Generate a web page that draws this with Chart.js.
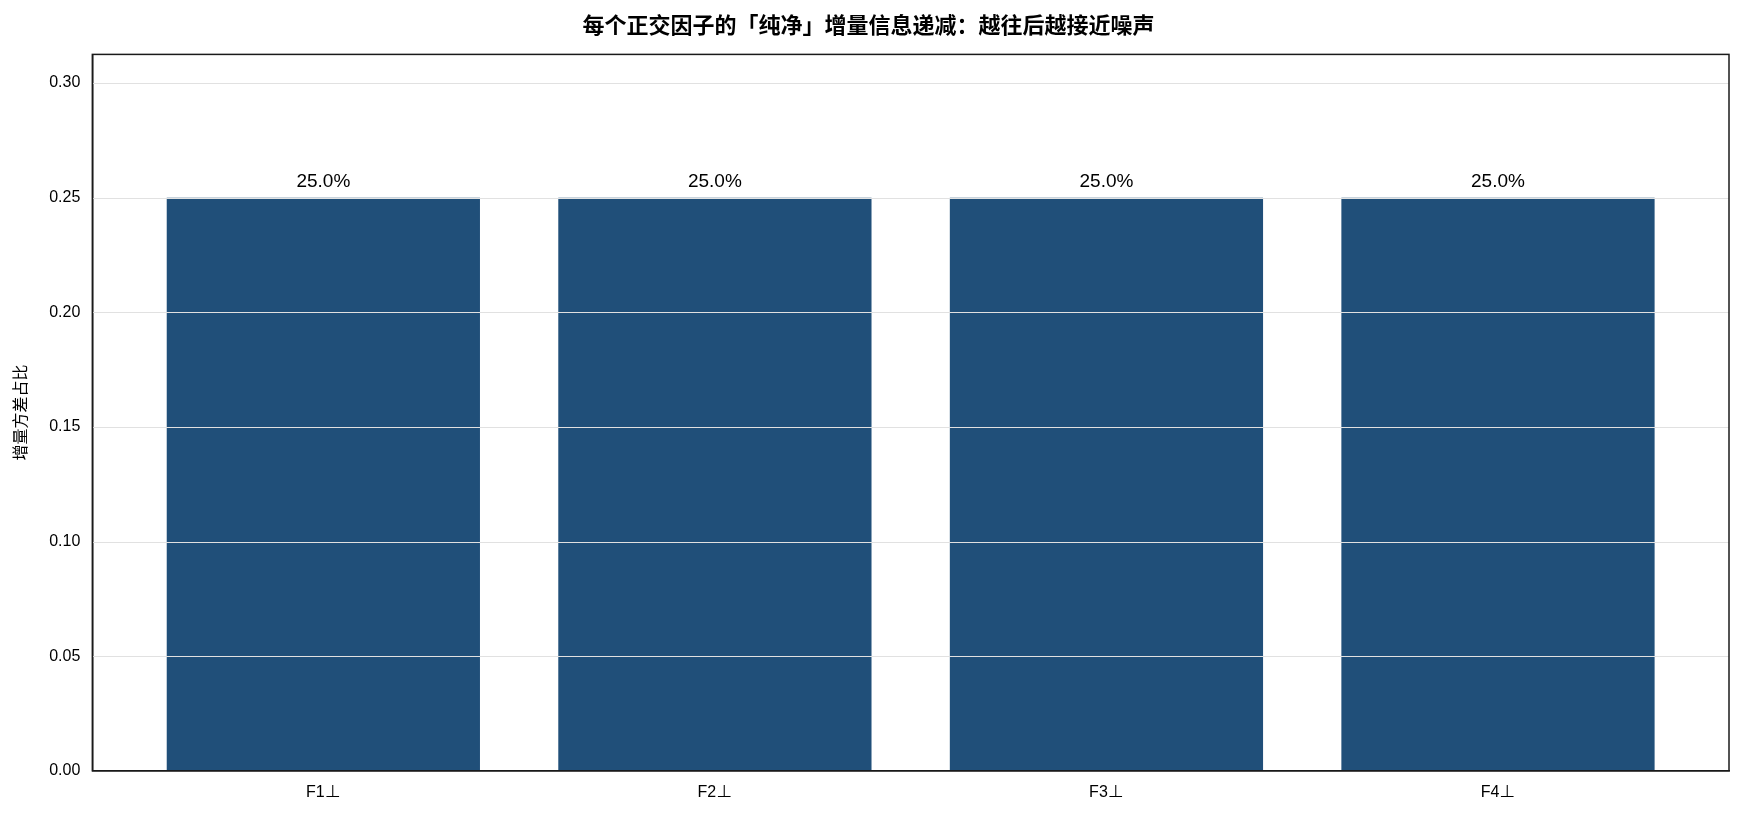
<!DOCTYPE html>
<html><head><meta charset="utf-8">
<script src="https://cdn.jsdelivr.net/npm/chart.js@4"></script>
<style>html,body{margin:0;padding:0;background:#fff}#w{width:1744px;height:816px}</style>
</head><body><div id="w"><canvas id="c"></canvas></div>
<script>
const categories = ["F1⊥","F2⊥","F3⊥","F4⊥"];
const values = [0.25,0.25,0.25,0.25];
const labels = ["25.0%","25.0%","25.0%","25.0%"];
const yTicks = [0,0.05,0.10,0.15,0.20,0.25,0.30];
const titleText = "每个正交因子的「纯净」增量信息递减：越往后越接近噪声";
const yTitle = "增量方差占比";
const FONT = "'Liberation Sans','Noto Sans CJK SC',sans-serif";

const overGrid = {
  id:'overGrid',
  afterDatasetsDraw(ch){
    const {ctx,chartArea:a,scales:{x,y}} = ch;
    ctx.save();
    ctx.strokeStyle='rgba(225,225,225,1)'; ctx.lineWidth=1.2;
    yTicks.forEach(v=>{ if(v===0) return; const py=Math.round(y.getPixelForValue(v))+0.5;
      ctx.beginPath(); ctx.moveTo(a.left,py); ctx.lineTo(a.right,py); ctx.stroke();});
    ctx.fillStyle='#000'; ctx.font="19px "+FONT; ctx.textAlign='center'; ctx.textBaseline='bottom';
    const meta=ch.getDatasetMeta(0);
    meta.data.forEach((b,i)=>{ ctx.fillText(labels[i], b.x, b.y-6); });
    ctx.strokeStyle='#1a1a1a'; ctx.lineWidth=1.5;
    ctx.strokeRect(a.left,a.top,a.right-a.left,a.bottom-a.top);
    ctx.restore();
  }
};

new Chart(document.getElementById('c'),{
  type:'bar',
  data:{datasets:[{data:values.map((v,i)=>({x:i,y:v})),backgroundColor:'#204f79',barPercentage:0.8,categoryPercentage:1}]},
  options:{
    responsive:true,maintainAspectRatio:false,animation:false,
    layout:{padding:{left:8,right:15,top:6,bottom:8}},
    plugins:{legend:{display:false},tooltip:{enabled:false},
      title:{display:true,text:titleText,color:'#000',font:{family:FONT,size:22},padding:{top:8,bottom:14}}},
    scales:{
      x:{type:'linear',min:-0.59,max:3.59,offset:false,
        afterBuildTicks(s){s.ticks=categories.map((c,i)=>({value:i}));},
        ticks:{callback:(v)=>categories[v],color:'#000',font:{family:FONT,size:16},autoSkip:false,maxRotation:0,padding:6},
        grid:{display:false,drawTicks:true,tickLength:6,tickColor:'#000'},border:{display:true,color:'#1a1a1a',width:1.5}},
      y:{min:0,max:0.3125,
        afterBuildTicks(s){s.ticks=yTicks.map(v=>({value:v}));},
        ticks:{callback:v=>v.toFixed(2),color:'#000',font:{family:FONT,size:16},padding:6},
        grid:{display:false,drawTicks:true,tickLength:6,tickColor:'#000'},border:{display:true,color:'#1a1a1a',width:1.5},
        title:{display:true,text:yTitle,color:'#000',font:{family:FONT,size:16},padding:{bottom:12}}}
    }
  },
  plugins:[overGrid]
});
</script></body></html>
